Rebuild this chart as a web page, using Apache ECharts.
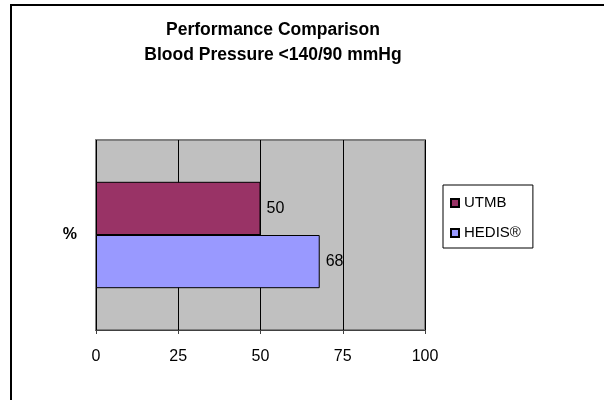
<!DOCTYPE html>
<html>
<head>
<meta charset="utf-8">
<script src="https://cdn.jsdelivr.net/npm/echarts@6/dist/echarts.min.js"></script>
<style>
  html, body { margin: 0; padding: 0; background: #fff; }
</style>
</head>
<body>
<div id="perf_bar" style="width: 604px; height: 400px;"></div>
<script>
// data
var categories = ['%'];
var seriesNames = ['UTMB', 'HEDIS®'];
var utmbValues = [50];
var hedisValues = [68];
var xTicks = [0, 25, 50, 75, 100];

var chart = echarts.init(document.getElementById('perf_bar'));
var font = '"Liberation Sans", Arial, sans-serif';

var option = {
    animation: false,
    textStyle: { fontFamily: font },
    title: {
        text: 'Performance Comparison\nBlood Pressure <140/90 mmHg',
        left: 273,
        top: 18,
        padding: 0,
        textAlign: 'center',
        textStyle: {
            fontFamily: font,
            fontSize: 17.5,
            fontWeight: 'bold',
            color: '#000',
            lineHeight: 25
        }
    },
    graphic: [
        {
            type: 'rect',
            silent: true,
            shape: { x: 11, y: 5, width: 800, height: 600 },
            style: { fill: 'none', stroke: '#000', lineWidth: 2 }
        }
    ],
    legend: {
        data: seriesNames,
        orient: 'vertical',
        left: 443,
        top: 185,
        padding: [10, 12, 7, 7],
        itemWidth: 8,
        itemHeight: 8,
        itemGap: 14,
        icon: 'rect',
        borderColor: '#000',
        borderWidth: 1,
        textStyle: { fontFamily: font, fontSize: 15, color: '#000', lineHeight: 16 }
    },
    grid: {
        left: 96,
        top: 140,
        width: 329,
        height: 190,
        show: true,
        backgroundColor: '#c0c0c0',
        borderColor: '#808080',
        borderWidth: 2
    },
    xAxis: {
        type: 'value',
        min: xTicks[0],
        max: xTicks[xTicks.length - 1],
        interval: 25,
        axisLine: { show: true, lineStyle: { color: '#404040', width: 1 } },
        axisTick: { show: true, length: 4, lineStyle: { color: '#404040' } },
        axisLabel: { margin: 19, fontFamily: font, fontSize: 16, color: '#000' },
        splitLine: { show: true, lineStyle: { color: '#000', width: 1 } }
    },
    yAxis: {
        type: 'category',
        data: categories,
        inverse: true,
        axisLine: { show: false },
        axisTick: { show: false },
        axisLabel: { margin: 19, fontFamily: font, fontSize: 16, fontWeight: 'bold', color: '#000' }
    },
    series: [
        {
            name: seriesNames[0],
            type: 'bar',
            data: utmbValues,
            barGap: '0%',
            barCategoryGap: '44%',
            itemStyle: { color: '#993366', borderColor: '#000', borderWidth: 1 },
            label: { show: true, position: 'right', distance: 6, fontFamily: font, fontSize: 16, color: '#000' }
        },
        {
            name: seriesNames[1],
            type: 'bar',
            data: hedisValues,
            barGap: '0%',
            barCategoryGap: '44%',
            itemStyle: { color: '#9999ff', borderColor: '#000', borderWidth: 1 },
            label: { show: true, position: 'right', distance: 6, fontFamily: font, fontSize: 16, color: '#000' }
        }
    ]
};

chart.setOption(option);
</script>
</body>
</html>
